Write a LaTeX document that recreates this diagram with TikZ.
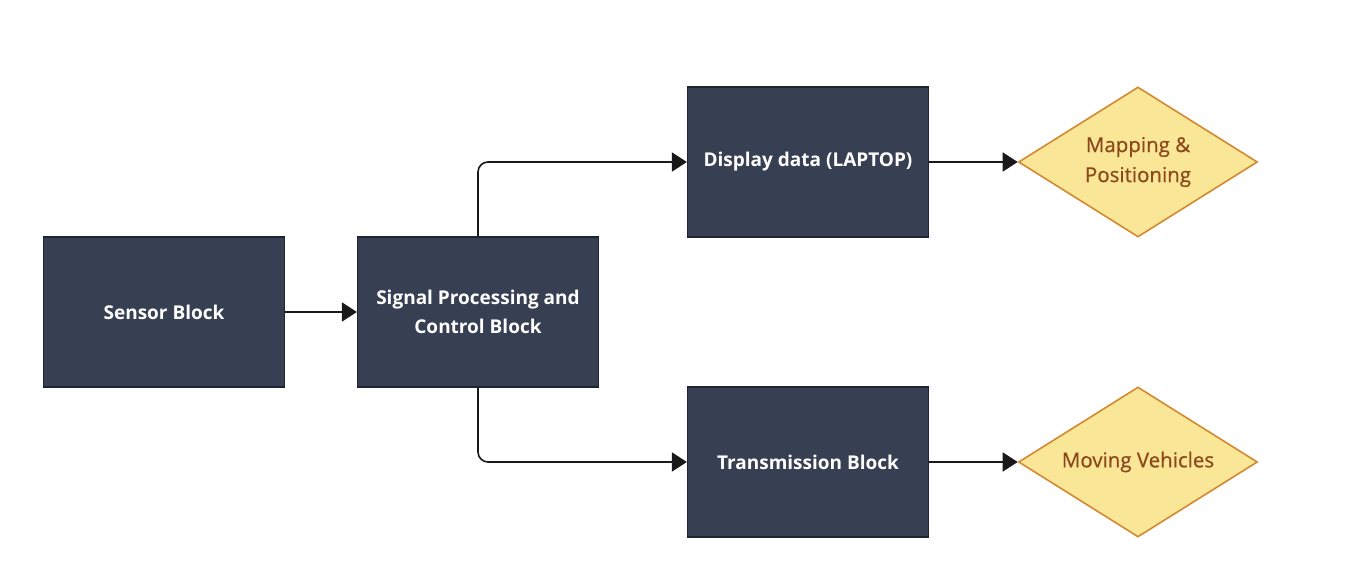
\documentclass[tikz,border=0pt]{standalone}
\usepackage{fontspec}
\setmainfont{Open Sans}
\newfontfamily\medfont{Open Sans}[FakeBold=0.6]
\usepackage{tikz}
\usetikzlibrary{shapes.geometric,arrows.meta}
\definecolor{boxfill}{RGB}{55,64,82}
\definecolor{boxline}{RGB}{30,36,48}
\definecolor{diafill}{RGB}{249,230,150}
\definecolor{dialine}{RGB}{212,136,48}
\definecolor{diatext}{RGB}{139,72,28}
\definecolor{arrowcol}{RGB}{25,25,25}
\tikzset{
  block/.style={rectangle, draw=boxline, line width=1.2pt, fill=boxfill, text=white,
    minimum width=241pt, minimum height=150pt, align=center,
    execute at begin node=\vspace*{8pt},
    font=\fontsize{19}{29}\selectfont\bfseries},
  decision/.style={diamond, draw=dialine, line width=1.6pt, fill=diafill, text=diatext,
    minimum width=239pt, minimum height=150pt, aspect=1.6, inner sep=0pt, align=center,
    execute at begin node=\vspace*{8pt},
    font=\medfont\fontsize{20.5}{30}\selectfont},
  flow/.style={draw=arrowcol, line width=1.6pt, rounded corners=10pt,
    -{Triangle[length=15pt,width=19pt]}}
}

\begin{document}
\begin{tikzpicture}[x=1pt,y=-1pt]
\useasboundingbox (0,0) rectangle (1366,585);

\node[block] (sensor) at (164,312) {Sensor Block};
\node[block] (signal) at (478,312) {Signal Processing and\\Control Block};
\node[block] (display) at (808,162) {Display data (LAPTOP)};
\node[block] (trans) at (808,462) {Transmission Block};
\node[decision] (mapping) at (1138,162) {Mapping \&\\Positioning};
\node[decision] (moving) at (1138,462) {Moving Vehicles};

\draw[flow] (sensor.east) -- (signal.west);
\draw[flow] (signal.north) |- (display.west);
\draw[flow] (signal.south) |- (trans.west);
\draw[flow] (display.east) -- (mapping.west);
\draw[flow] (trans.east) -- (moving.west);
\end{tikzpicture}
\end{document}
